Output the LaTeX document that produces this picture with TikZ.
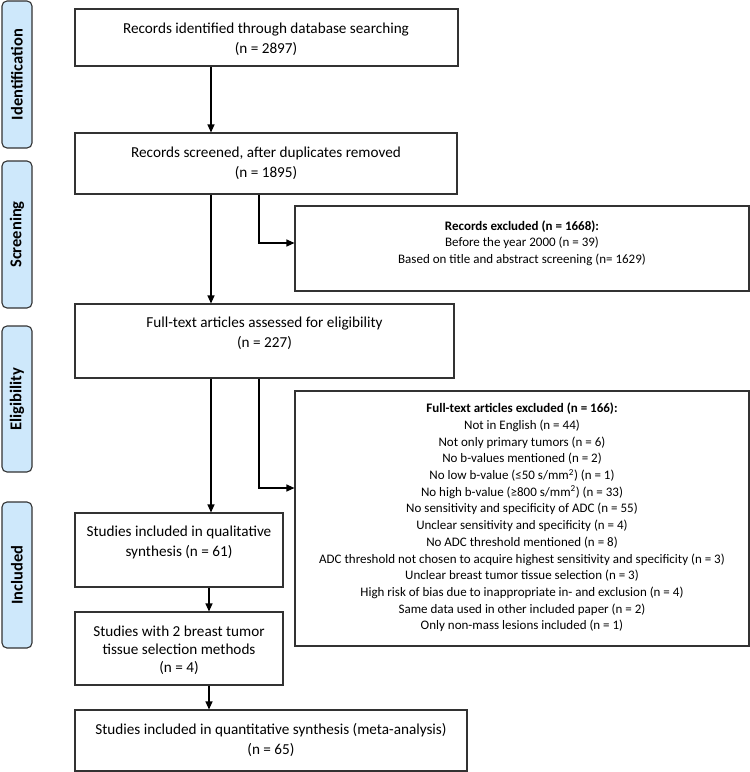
\documentclass[tikz,border=0pt]{standalone}
\usepackage{fontspec}
\setmainfont{Carlito}
\usetikzlibrary{arrows.meta,calc}
\definecolor{sidefill}{RGB}{206,232,251}
\definecolor{edge}{RGB}{50,50,50}
\tikzset{
  box/.style={draw=edge, line width=1.1pt, inner sep=0pt, rectangle},
  side/.style={draw=edge, line width=1.1pt, fill=sidefill, rounded corners=5pt, inner sep=0pt, minimum width=30pt},
  sidetext/.style={rotate=90, font=\fontsize{16.5}{18}\selectfont\bfseries},
  txt/.style={align=center, inner sep=0pt, font=\fontsize{15.2}{20}\selectfont},
  txtb/.style={align=center, inner sep=0pt, font=\fontsize{15.2}{18}\selectfont},
  txtc/.style={align=center, inner sep=0pt, font=\fontsize{13}{16.7}\selectfont},
  arr/.style={line width=1.1pt, -{Triangle[length=8pt,width=7pt]}}
}
\begin{document}
\begin{tikzpicture}[x=1pt,y=-1pt]
\useasboundingbox (0,0) rectangle (750,772);
% side labels
\node[side, minimum height=147pt] (s1) at (17,74.5) {};
\node[sidetext] (s1t) at (s1.center) {Identification};
\node[side, minimum height=147pt] (s2) at (17,234.5) {};
\node[sidetext] (s2t) at (s2.center) {Screening};
\node[side, minimum height=146pt] (s3) at (17,399) {};
\node[sidetext] (s3t) at (s3.center) {Eligibility};
\node[side, minimum height=146pt] (s4) at (17,575) {};
\node[sidetext] (s4t) at (s4.center) {Included};
% boxes
\node[box, minimum width=383pt, minimum height=57pt] (b1) at (266.5,37.5) {};
\node[box, minimum width=382pt, minimum height=61pt] (b2) at (266,163.5) {};
\node[box, minimum width=379pt, minimum height=74pt] (b3) at (264.5,341) {};
\node[box, minimum width=454pt, minimum height=85pt] (e1) at (522,248.5) {};
\node[box, minimum width=454pt, minimum height=255pt] (e2) at (522,518.5) {};
\node[box, minimum width=208pt, minimum height=74pt] (b4) at (179,550) {};
\node[box, minimum width=208pt, minimum height=73pt] (b5) at (179,648.5) {};
\node[box, minimum width=392pt, minimum height=61pt] (b6) at (271,740.5) {};
% texts
\node[txt] (t1) at (266,39) {Records identified through database searching\\(n = 2897)};
\node[txt] (t2) at (266,163) {Records screened, after duplicates removed\\(n = 1895)};
\node[txt] (t3) at (264.5,333.5) {Full-text articles assessed for eligibility\\(n = 227)};
\node[txtc] (te1) at (522,243) {\textbf{Records excluded (n = 1668):}\\Before the year 2000 (n = 39)\\Based on title and abstract screening (n= 1629)};
\node[txtc] (te2) at (522,517.5) {\textbf{Full-text articles excluded (n = 166):}\\
Not in English (n = 44)\\
Not only primary tumors (n = 6)\\
No b-values mentioned (n = 2)\\
No low b-value (≤50 s/mm\textsuperscript{2}) (n = 1)\\
No high b-value (≥800 s/mm\textsuperscript{2}) (n = 33)\\
No sensitivity and specificity of ADC (n = 55)\\
Unclear sensitivity and specificity (n = 4)\\
No ADC threshold mentioned (n = 8)\\
ADC threshold not chosen to acquire highest sensitivity and specificity (n = 3)\\
Unclear breast tumor tissue selection (n = 3)\\
High risk of bias due to inappropriate in- and exclusion (n = 4)\\
Same data used in other included paper (n = 2)\\
Only non-mass lesions included (n = 1)};
\node[txt] (t4) at (179,542.5) {Studies included in qualitative\\synthesis (n = 61)};
\node[txtb] (t5) at (179,650) {Studies with 2 breast tumor\\tissue selection methods\\(n = 4)};
\node[txt] (t6) at (271,740) {Studies included in quantitative synthesis (meta-analysis)\\(n = 65)};
% connector guides
\coordinate (mx) at (211,0);
\coordinate (bx) at (259,0);
\coordinate (lx) at (209,0);
\coordinate (ay1) at (0,243);
\coordinate (ay2) at (0,488);
\draw[arr] (b1.south -| mx) -- (b2.north -| mx);
\draw[arr] (b2.south -| mx) -- (b3.north -| mx);
\draw[arr] (b3.south -| mx) -- (b4.north -| mx);
\draw[arr] (b2.south -| bx) |- (e1.west |- ay1);
\draw[arr] (b3.south -| bx) |- (e2.west |- ay2);
\draw[arr] (b4.south -| lx) -- (b5.north -| lx);
\draw[arr] (b5.south -| lx) -- (b6.north -| lx);
\end{tikzpicture}
\end{document}
